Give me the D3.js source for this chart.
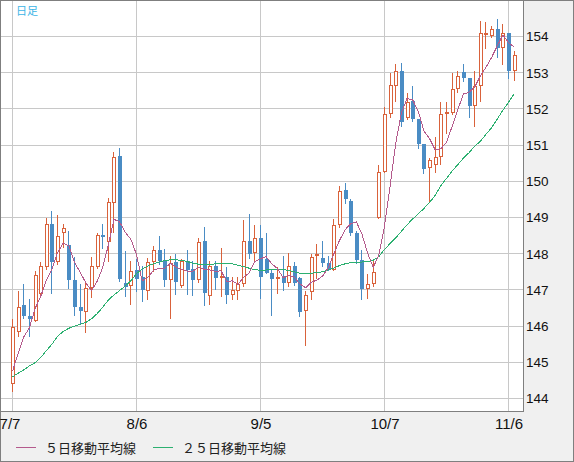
<!DOCTYPE html>
<html>
<head>
<meta charset="utf-8">
<script src="https://cdn.jsdelivr.net/npm/d3@7"></script>
<style>
  body { margin: 0; background: #f0f0f0; }
  svg { display: block; }
</style>
</head>
<body>
<svg id="chart" width="574" height="462"></svg>
<script>
// daily candles 7/7 .. 11/7
const opens = [
  144.41, 145.85, 146.57, 146.29, 146.15, 146.90, 147.63, 148.81, 147.77, 148.56,
  148.25, 147.28, 146.54, 146.38, 147.06, 147.63, 148.53, 148.31, 149.41, 150.71,
  147.19, 147.10, 147.54, 147.35, 146.97, 147.77, 148.09, 147.83, 147.28, 147.77,
  147.12, 147.81, 147.59, 147.28, 148.35, 146.83, 147.66, 147.34, 147.37, 146.87,
  146.97, 147.15, 148.34, 148.03, 148.42, 147.84, 147.48, 147.34, 147.37, 147.18,
  147.65, 147.34, 146.43, 146.93, 147.95, 147.87, 147.73, 147.56, 148.78, 149.75,
  149.45, 148.56, 147.82, 147.03, 147.17, 149.00, 150.27, 151.87, 152.62, 153.06,
  151.76, 152.23, 151.73, 151.02, 150.38, 150.46, 150.66, 151.87, 151.90, 152.54,
  153.03, 152.84, 152.09, 152.64, 154.06, 154.01, 154.21, 153.69, 154.10, 153.06
];
const highs = [
  146.20, 146.96, 147.15, 146.75, 147.51, 147.77, 149.00, 149.17, 149.08, 148.83,
  148.64, 147.92, 147.17, 147.20, 147.90, 148.56, 148.83, 149.55, 150.82, 150.91,
  148.07, 147.81, 147.85, 147.67, 147.89, 148.22, 148.50, 148.14, 147.95, 148.00,
  147.86, 148.09, 147.81, 148.42, 148.75, 147.81, 147.81, 148.17, 147.62, 147.37,
  147.37, 148.92, 149.11, 148.78, 148.78, 148.56, 147.56, 147.62, 147.95, 148.03,
  147.76, 147.37, 146.98, 148.00, 148.28, 148.36, 147.95, 148.95, 149.86, 149.94,
  149.50, 148.64, 148.10, 147.45, 147.80, 150.46, 152.04, 153.00, 153.23, 153.28,
  152.45, 152.62, 151.73, 151.04, 150.63, 151.21, 152.18, 152.18, 153.00, 153.06,
  153.25, 152.84, 153.06, 154.44, 154.41, 154.30, 154.49, 154.35, 154.10, 153.61
];
const lows = [
  144.17, 145.71, 146.20, 145.71, 146.10, 146.78, 147.54, 146.89, 147.70, 148.17,
  147.03, 146.27, 146.06, 145.80, 146.79, 147.59, 148.14, 147.77, 148.57, 147.21,
  146.80, 146.57, 146.94, 146.66, 146.71, 147.49, 147.69, 147.07, 146.20, 146.85,
  147.04, 146.85, 146.82, 147.20, 146.55, 146.57, 147.01, 146.80, 146.62, 146.73,
  146.73, 147.09, 147.84, 147.73, 146.76, 147.43, 146.27, 146.90, 146.98, 147.09,
  147.12, 146.24, 145.44, 146.73, 147.30, 147.62, 147.51, 147.51, 148.72, 149.38,
  148.48, 147.72, 146.72, 146.75, 147.07, 148.97, 150.22, 151.74, 152.20, 151.49,
  151.68, 151.65, 150.90, 150.19, 149.39, 150.24, 150.46, 151.32, 151.82, 152.45,
  152.74, 151.76, 151.51, 152.18, 153.66, 153.97, 153.40, 153.20, 152.83, 152.78
];
const closes = [
  145.98, 146.54, 146.27, 146.20, 147.42, 147.67, 148.81, 147.77, 148.50, 148.72,
  147.28, 146.52, 146.41, 147.06, 147.65, 148.53, 148.45, 149.44, 150.66, 147.31,
  147.08, 147.52, 147.31, 147.01, 147.77, 148.09, 147.81, 147.28, 147.74, 147.21,
  147.81, 147.54, 147.28, 148.33, 146.91, 147.67, 147.34, 147.38, 146.87, 147.01,
  147.15, 148.34, 148.00, 148.42, 147.37, 147.48, 147.31, 147.37, 147.18, 147.67,
  147.20, 146.40, 146.87, 147.92, 147.98, 147.73, 147.56, 148.78, 149.74, 149.50,
  148.56, 147.82, 147.03, 147.17, 147.49, 150.27, 151.87, 152.65, 153.06, 151.65,
  152.20, 151.71, 151.04, 150.35, 150.60, 150.66, 151.87, 151.92, 152.54, 152.90,
  152.84, 152.09, 152.64, 154.10, 154.09, 154.21, 153.69, 154.10, 153.06, 153.48
];

// 5 day moving average
const ma5 = [
  144.75, 145.25, 145.70, 145.95, 146.48, 146.82, 147.27, 147.57, 148.03, 148.29,
  148.22, 147.76, 147.49, 147.20, 146.98, 147.23, 147.62, 148.23, 148.95, 148.88,
  148.59, 148.40, 147.98, 147.25, 147.34, 147.54, 147.60, 147.59, 147.74, 147.63,
  147.57, 147.52, 147.52, 147.63, 147.57, 147.55, 147.51, 147.53, 147.23, 147.25,
  147.15, 147.35, 147.47, 147.78, 147.86, 147.92, 147.72, 147.59, 147.34, 147.40,
  147.35, 147.16, 147.06, 147.21, 147.27, 147.38, 147.61, 147.99, 148.36, 148.66,
  148.83, 148.88, 148.54, 148.02, 147.62, 147.96, 148.76, 149.88, 151.06, 151.89,
  152.29, 152.25, 151.93, 151.39, 151.18, 150.87, 150.90, 151.08, 151.52, 151.98,
  152.41, 152.46, 152.60, 152.91, 153.15, 153.42, 153.74, 154.04, 153.83, 153.71
];
// 25 day moving average
const ma25 = [
  144.60, 144.70, 144.79, 144.90, 144.99, 145.13, 145.32, 145.50, 145.72, 145.85,
  145.94, 146.00, 146.05, 146.10, 146.20, 146.34, 146.52, 146.72, 146.86, 146.98,
  147.11, 147.25, 147.45, 147.58, 147.66, 147.72, 147.77, 147.81, 147.83, 147.83,
  147.82, 147.78, 147.74, 147.71, 147.70, 147.70, 147.72, 147.74, 147.74, 147.72,
  147.68, 147.64, 147.60, 147.56, 147.54, 147.55, 147.56, 147.56, 147.56, 147.54,
  147.50, 147.46, 147.46, 147.46, 147.48, 147.50, 147.55, 147.60, 147.67, 147.72,
  147.75, 147.77, 147.77, 147.78, 147.82, 147.92, 148.12, 148.28, 148.44, 148.62,
  148.80, 148.96, 149.10, 149.25, 149.42, 149.61, 149.88, 150.08, 150.28, 150.46,
  150.64, 150.79, 150.97, 151.10, 151.30, 151.48, 151.72, 151.96, 152.18, 152.42
];

const dateTickIdx = [0, 22, 44, 66, 88];
const dateTickLabels = ['7/7', '8/6', '9/5', '10/7', '11/6'];
const priceTicks = [144, 145, 146, 147, 148, 149, 150, 151, 152, 153, 154];
const legendNames = ['５日移動平均線', '２５日移動平均線'];

const UP = '#d9623b', DOWN = '#4a8cc4';
const MA5_COLOR = '#b45a8c', MA25_COLOR = '#2cb070';
const GRID = '#c8c8c8', FRAME = '#7f7f7f';

let plotRight = 523, plotBottom = 411;

let svg = d3.select('#chart');

// background + outer frame
svg.append('rect')
  .attr('x', 0.5).attr('y', 0.5)
  .attr('width', 573).attr('height', 461)
  .attr('fill', '#f0f0f0')
  .attr('stroke', FRAME);

svg.append('rect')
  .attr('x', 1).attr('y', 1)
  .attr('width', plotRight - 1).attr('height', plotBottom - 1)
  .attr('fill', '#fff');

let x = d3.scaleLinear().domain([0, 88]).range([12.5, 508.5]);
let y = d3.scaleLinear().domain([144, 154]).range([398.5, 36.5]);
let snap = v => Math.floor(v) + 0.5;

// grid
let grid = svg.append('g').attr('shape-rendering', 'crispEdges');
grid.selectAll('line.h').data(priceTicks).join('line')
  .attr('class', 'h')
  .attr('x1', 1).attr('x2', plotRight)
  .attr('y1', d => snap(y(d))).attr('y2', d => snap(y(d)))
  .attr('stroke', GRID);
grid.selectAll('line.v').data(dateTickIdx).join('line')
  .attr('class', 'v')
  .attr('y1', 1).attr('y2', plotBottom)
  .attr('x1', d => snap(x(d))).attr('x2', d => snap(x(d)))
  .attr('stroke', GRID);

// candles
let candles = opens.map((o, i) => ({i: i, o: o, h: highs[i], l: lows[i], c: closes[i], up: closes[i] >= o}));
let cg = svg.append('g').attr('shape-rendering', 'crispEdges');

cg.selectAll('line').data(candles).join('line')
  .attr('x1', d => snap(x(d.i))).attr('x2', d => snap(x(d.i)))
  .attr('y1', d => Math.round(y(d.h))).attr('y2', d => Math.round(y(d.l)))
  .attr('stroke', d => d.up ? UP : DOWN);

cg.selectAll('rect').data(candles).join('rect')
  .each(function (d) {
    let cx = Math.floor(x(d.i));
    let top = Math.round(y(Math.max(d.o, d.c)));
    let bot = Math.round(y(Math.min(d.o, d.c)));
    let r = d3.select(this);
    if (d.up) {
      r.attr('x', cx - 0.5).attr('y', top + 0.5)
        .attr('width', 3).attr('height', Math.max(1, bot - top - 1))
        .attr('fill', '#fff').attr('stroke', UP);
    } else {
      r.attr('x', cx - 1).attr('y', top)
        .attr('width', 4).attr('height', Math.max(1, bot - top))
        .attr('fill', DOWN);
    }
  });

// moving averages
let line = d3.line().x((d, i) => x(i)).y(d => y(d));
svg.append('path').datum(ma25)
  .attr('d', line).attr('fill', 'none')
  .attr('stroke', MA25_COLOR).attr('stroke-width', 1)
  .attr('shape-rendering', 'crispEdges');
svg.append('path').datum(ma5)
  .attr('d', line).attr('fill', 'none')
  .attr('stroke', MA5_COLOR).attr('stroke-width', 1)
  .attr('shape-rendering', 'crispEdges');

// plot frame (right + bottom)
svg.append('path')
  .attr('d', 'M' + (plotRight + 0.5) + ',0.5V' + (plotBottom + 0.5) + 'H0.5')
  .attr('fill', 'none').attr('stroke', FRAME)
  .attr('shape-rendering', 'crispEdges');

// price axis
let yAxis = d3.axisRight(y).tickValues(priceTicks).tickSize(0).tickPadding(0);
svg.append('g')
  .attr('transform', 'translate(526,0)')
  .call(yAxis)
  .call(g => g.select('.domain').remove())
  .selectAll('text')
  .attr('font-family', '"Liberation Sans", Arial, sans-serif')
  .attr('font-size', 13.5)
  .attr('fill', '#111');

// date axis
let xAxis = d3.axisBottom(x).tickValues(dateTickIdx)
  .tickFormat((d, i) => dateTickLabels[i]).tickSize(0).tickPadding(0);
svg.append('g')
  .attr('transform', 'translate(0,418)')
  .call(xAxis)
  .call(g => g.select('.domain').remove())
  .selectAll('text')
  .attr('dy', '0.71em')
  .attr('x', (d, i) => i == 0 ? -3 : 0)
  .attr('font-family', '"Liberation Sans", Arial, sans-serif')
  .attr('font-size', 15)
  .attr('fill', '#111');

// label top-left
svg.append('text')
  .attr('x', 16).attr('y', 15)
  .attr('font-family', '"Noto Sans CJK JP", sans-serif')
  .attr('font-size', 11)
  .attr('fill', '#3cb4e6')
  .text('日足');

// legend
let legendX = [16, 153];
let legendColors = [MA5_COLOR, MA25_COLOR];
legendNames.forEach(function (name, k) {
  svg.append('line')
    .attr('x1', legendX[k]).attr('x2', legendX[k] + 20)
    .attr('y1', 447.5).attr('y2', 447.5)
    .attr('stroke', legendColors[k])
    .attr('shape-rendering', 'crispEdges');
  svg.append('text')
    .attr('x', legendX[k] + 29).attr('y', 452.5)
    .attr('font-family', '"Noto Sans CJK JP", sans-serif')
    .attr('font-size', 13)
    .attr('fill', '#222')
    .text(name);
});
</script>
</body>
</html>
